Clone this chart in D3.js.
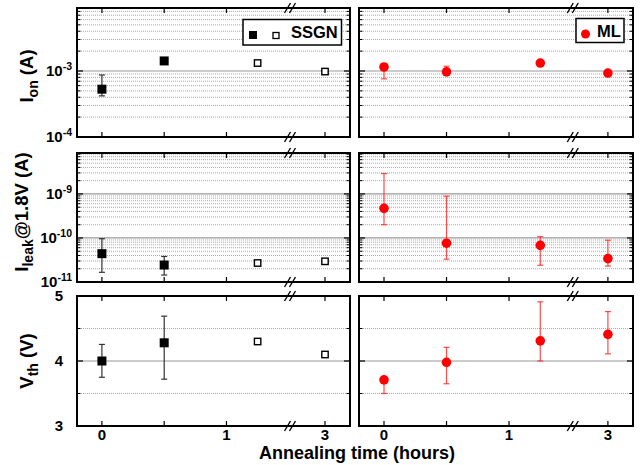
<!DOCTYPE html>
<html><head><meta charset="utf-8">
<script src="https://cdn.jsdelivr.net/npm/d3@7"></script>
<style>
body{margin:0;background:#fff;}
svg{display:block;font-family:"Liberation Sans",Arial,sans-serif;font-weight:bold;}
</style></head>
<body><svg id="c" width="640" height="465"></svg>
<script>
// ---- data ----
const hours = [0, 0.5, 1.25, 3];
const xTicks = [0, 0.5, 1, 3];
const xTickLabels = ["0", "", "1", "3"];
const ssgnFilled = [true, true, false, false];

const ionSSGN   = [5.3e-4, 1.42e-3, 1.32e-3, 0.98e-3];
const ionSSGNLo = [4.2e-4, null, null, null];
const ionSSGNHi = [8.7e-4, null, null, null];
const ionML     = [1.15e-3, 0.97e-3, 1.32e-3, 0.93e-3];
const ionMLLo   = [7.6e-4, 0.9e-3, null, null];
const ionMLHi   = [1.25e-3, 1.18e-3, null, null];

const leakSSGN   = [4.4e-11, 2.43e-11, 2.7e-11, 2.95e-11];
const leakSSGNLo = [1.66e-11, 1.44e-11, null, null];
const leakSSGNHi = [9.6e-11, 3.8e-11, null, null];
const leakML     = [4.7e-10, 7.6e-11, 6.8e-11, 3.4e-11];
const leakMLLo   = [2.0e-10, 3.3e-11, 2.4e-11, 2.3e-11];
const leakMLHi   = [2.9e-9, 8.9e-10, 1.07e-10, 8.9e-11];

const vthSSGN   = [4.0, 4.28, 4.30, 4.1];
const vthSSGNLo = [3.75, 3.72, null, null];
const vthSSGNHi = [4.255, 4.69, null, null];
const vthML     = [3.71, 3.98, 4.31, 4.41];
const vthMLLo   = [3.5, 3.65, 4.0, 4.11];
const vthMLHi   = [3.75, 4.21, 4.91, 4.76];

const ionTicks = [1e-4, 1e-3];
const ionTickExp = ["-4", "-3"];
const leakTicks = [1e-11, 1e-10, 1e-9];
const leakTickExp = ["-11", "-10", "-9"];
const vthTicks = [3, 4, 5];

// ---- layout ----
const svg = d3.select("#c");
const cols = [{x0: 77, x1: 350}, {x0: 359, x1: 633}];
const rows = [{y0: 8, y1: 137}, {y0: 153, y1: 282}, {y0: 296, y1: 426}];
const brk = 1.51, brk2 = 2.72;

function makeX(c) {
  const w = c.x1 - c.x0;
  const wb = w * 213 / 273;
  return d3.scaleLinear().domain([-0.2, brk, brk2, 3.2]).range([c.x0, c.x0 + wb, c.x0 + wb, c.x1]);
}

const panels = [
  {type: "log", domain: [1e-4, 9e-3], ticks: ionTicks, exps: ionTickExp,
   s: [ionSSGN, ionSSGNLo, ionSSGNHi], m: [ionML, ionMLLo, ionMLHi]},
  {type: "log", domain: [1e-11, 8.5e-9], ticks: leakTicks, exps: leakTickExp,
   s: [leakSSGN, leakSSGNLo, leakSSGNHi], m: [leakML, leakMLLo, leakMLHi]},
  {type: "lin", domain: [3, 5], ticks: vthTicks,
   s: [vthSSGN, vthSSGNLo, vthSSGNHi], m: [vthML, vthMLLo, vthMLHi]}
];

panels.forEach((p, ri) => {
  const r = rows[ri];
  const y = (p.type === "log" ? d3.scaleLog() : d3.scaleLinear()).domain(p.domain).range([r.y1, r.y0]);
  let major = [], minor = [];
  if (p.type === "log") {
    const lo = Math.round(Math.log10(p.domain[0])), hi = Math.ceil(Math.log10(p.domain[1]));
    for (let e = lo; e < hi; e++) {
      const b = Math.pow(10, e);
      if (b >= p.domain[0] && b <= p.domain[1]) major.push(b);
      for (let k = 2; k <= 9; k++) { const v = k * b; if (v < p.domain[1]) minor.push(v); }
    }
  } else {
    major = [4]; minor = [3.5, 4.5];
  }
  cols.forEach((c, ci) => {
    const x = makeX(c);
    const g = svg.append("g");
    g.selectAll(".mi").data(minor).enter().append("line")
      .attr("x1", c.x0).attr("x2", c.x1).attr("y1", d => y(d)).attr("y2", d => y(d))
      .attr("stroke", "#aaa").attr("stroke-width", 1).attr("stroke-dasharray", "1,1");
    g.selectAll(".ma").data(major.filter(d => d > p.domain[0] && d < p.domain[1])).enter().append("line")
      .attr("x1", c.x0).attr("x2", c.x1).attr("y1", d => y(d)).attr("y2", d => y(d))
      .attr("stroke", "#999").attr("stroke-width", 1.2);
    const majorT = p.type === "log" ? p.ticks : vthTicks;
    const minorT = p.type === "log" ? minor : [3.5, 4.5];
    [[c.x0, 1], [c.x1, -1]].forEach(([xx, dir]) => {
      g.selectAll(null).data(majorT).enter().append("line")
        .attr("x1", xx).attr("x2", xx + dir * 6).attr("y1", d => y(d)).attr("y2", d => y(d))
        .attr("stroke", "#000").attr("stroke-width", 1.2);
      g.selectAll(null).data(minorT).enter().append("line")
        .attr("x1", xx).attr("x2", xx + dir * 3.5).attr("y1", d => y(d)).attr("y2", d => y(d))
        .attr("stroke", "#000").attr("stroke-width", 1);
    });
    [[r.y1, -1], [r.y0, 1]].forEach(([yy, dir]) => {
      g.selectAll(null).data(xTicks).enter().append("line")
        .attr("x1", d => x(d)).attr("x2", d => x(d)).attr("y1", yy).attr("y2", yy + dir * 5)
        .attr("stroke", "#000").attr("stroke-width", 1.2);
    });
    g.append("rect").attr("x", c.x0).attr("y", r.y0).attr("width", c.x1 - c.x0).attr("height", r.y1 - r.y0)
      .attr("fill", "none").attr("stroke", "#000").attr("stroke-width", 2);
    const bx = x(brk);
    [r.y0, r.y1].forEach(yy => {
      [-2.5, 2.5].forEach(off => {
        g.append("line").attr("x1", bx + off - 3).attr("y1", yy + 5).attr("x2", bx + off + 3).attr("y2", yy - 5)
          .attr("stroke", "#000").attr("stroke-width", 1.4);
      });
    });
    const isML = ci === 1;
    const [vals, los, his] = isML ? p.m : p.s;
    const ecol = isML ? "#ff2020" : "#333";
    hours.forEach((h, i) => {
      if (los[i] != null || his[i] != null) {
        const lo = los[i] != null ? los[i] : vals[i];
        const hi = his[i] != null ? his[i] : vals[i];
        const px = x(h);
        g.append("line").attr("x1", px).attr("x2", px).attr("y1", y(lo)).attr("y2", y(hi))
          .attr("stroke", ecol).attr("stroke-width", 1.2).attr("opacity", isML ? 0.8 : 1);
        [lo, hi].forEach(v => {
          if (v === vals[i]) return;
          g.append("line").attr("x1", px - 3).attr("x2", px + 3).attr("y1", y(v)).attr("y2", y(v))
            .attr("stroke", ecol).attr("stroke-width", 1.2).attr("opacity", isML ? 0.8 : 1);
        });
      }
    });
    hours.forEach((h, i) => {
      const px = x(h), py = y(vals[i]);
      if (isML) {
        g.append("circle").attr("cx", px).attr("cy", py).attr("r", 4.8).attr("fill", "#ff0000");
      } else if (ssgnFilled[i]) {
        g.append("rect").attr("x", px - 4.5).attr("y", py - 4.5).attr("width", 9).attr("height", 9).attr("fill", "#000");
      } else {
        g.append("rect").attr("x", px - 3.2).attr("y", py - 3.2).attr("width", 6.4).attr("height", 6.4)
          .attr("fill", "#fff").attr("stroke", "#000").attr("stroke-width", 1.4);
      }
    });
    if (ri === 2) {
      g.selectAll(null).data(xTicks).enter().append("text")
        .attr("x", d => x(d)).attr("y", 440).attr("text-anchor", "middle")
        .attr("font-size", 15).text((d, i) => xTickLabels[i]);
    }
  });
  const c = cols[0];
  if (p.type === "log") {
    p.ticks.forEach((t, i) => {
      const tx = svg.append("text").attr("x", c.x0 - 5).attr("y", y(t) + 5).attr("text-anchor", "end").attr("font-size", 15);
      tx.append("tspan").text("10");
      tx.append("tspan").attr("dy", -6).attr("font-size", 10.5).text(p.exps[i]);
    });
  } else {
    p.ticks.forEach(t => {
      svg.append("text").attr("x", c.x0 - 14).attr("y", y(t) + 5).attr("text-anchor", "end").attr("font-size", 15).text(t);
    });
  }
});

function yTitle(bx, cy, main, sub, rest) {
  const t = svg.append("text").attr("transform", `translate(${bx},${cy}) rotate(-90)`)
    .attr("text-anchor", "middle").attr("font-size", 18.5);
  t.append("tspan").text(main);
  t.append("tspan").attr("dy", 5).attr("font-size", 14).text(sub);
  t.append("tspan").attr("dy", -5).text(rest);
}
yTitle(33, 76, "I", "on", " (A)");
yTitle(28, 212, "I", "leak", "@1.8V (A)");
yTitle(33, 361, "V", "th", " (V)");

svg.append("text").attr("x", 357).attr("y", 459).attr("text-anchor", "middle").attr("font-size", 18)
  .text("Annealing time (hours)");

const lg1 = svg.append("g");
lg1.append("rect").attr("x", 243).attr("y", 19.5).attr("width", 98.5).attr("height", 25.5)
  .attr("fill", "#fff").attr("stroke", "#000").attr("stroke-width", 1.5);
lg1.append("rect").attr("x", 249).attr("y", 31).attr("width", 8).attr("height", 8).attr("fill", "#000");
lg1.append("rect").attr("x", 273).attr("y", 32.5).attr("width", 6).attr("height", 6)
  .attr("fill", "#fff").attr("stroke", "#000").attr("stroke-width", 1.3);
lg1.append("text").attr("x", 291).attr("y", 38).attr("font-size", 16.5).text("SSGN");

const lg2 = svg.append("g");
lg2.append("rect").attr("x", 576).attr("y", 18.5).attr("width", 48).attr("height", 24)
  .attr("fill", "#fff").attr("stroke", "#000").attr("stroke-width", 1.5);
lg2.append("circle").attr("cx", 585.5).attr("cy", 34).attr("r", 4.5).attr("fill", "#ff0000");
lg2.append("text").attr("x", 597).attr("y", 37).attr("font-size", 16.5).text("ML");
</script></body></html>
